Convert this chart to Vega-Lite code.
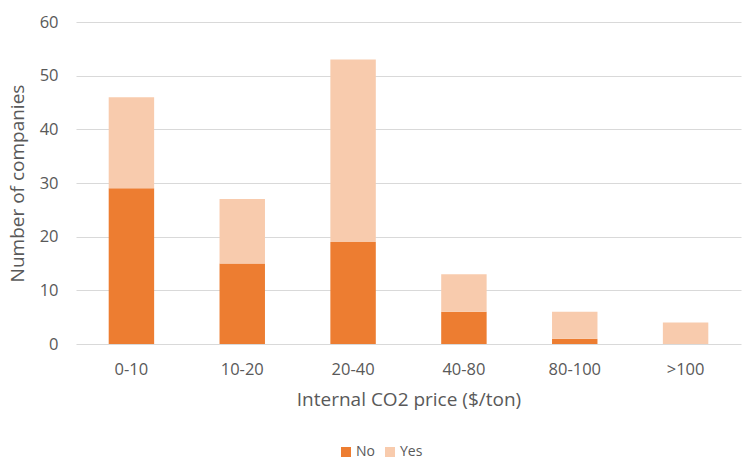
{
  "$schema": "https://vega.github.io/schema/vega-lite/v6.json",
  "width": 665,
  "height": 322,
  "autosize": {"type": "none"},
  "padding": {"left": 76, "top": 22, "right": 1, "bottom": 115},
  "background": "white",
  "data": {
    "values": [
      {"price": "0-10", "answer": "No", "companies": 29},
      {"price": "0-10", "answer": "Yes", "companies": 17},
      {"price": "10-20", "answer": "No", "companies": 15},
      {"price": "10-20", "answer": "Yes", "companies": 12},
      {"price": "20-40", "answer": "No", "companies": 19},
      {"price": "20-40", "answer": "Yes", "companies": 34},
      {"price": "40-80", "answer": "No", "companies": 6},
      {"price": "40-80", "answer": "Yes", "companies": 7},
      {"price": "80-100", "answer": "No", "companies": 1},
      {"price": "80-100", "answer": "Yes", "companies": 5},
      {"price": ">100", "answer": "No", "companies": 0},
      {"price": ">100", "answer": "Yes", "companies": 4}
    ]
  },
  "mark": {"type": "bar"},
  "encoding": {
    "x": {
      "field": "price",
      "type": "nominal",
      "sort": null,
      "scale": {"paddingInner": 0.59, "paddingOuter": 0.295},
      "axis": {
        "title": "Internal CO2 price ($/ton)",
        "labelAngle": 0,
        "ticks": false,
        "domain": false,
        "labelPadding": 17,
        "labelFontSize": 16.5,
        "labelColor": "#595959",
        "titleFontSize": 19,
        "titleFontWeight": "normal",
        "titleColor": "#595959",
        "titlePadding": 13
      }
    },
    "y": {
      "field": "companies",
      "type": "quantitative",
      "stack": "zero",
      "scale": {"domain": [0, 60]},
      "axis": {
        "title": "Number of companies",
        "values": [0, 10, 20, 30, 40, 50, 60],
        "ticks": false,
        "domain": false,
        "labelPadding": 18,
        "labelFontSize": 16.5,
        "labelColor": "#595959",
        "titleFontSize": 19,
        "titleFontWeight": "normal",
        "titleColor": "#595959",
        "titlePadding": 12,
        "gridColor": "#d9d9d9",
        "gridWidth": 1
      }
    },
    "color": {
      "field": "answer",
      "type": "nominal",
      "scale": {"domain": ["No", "Yes"], "range": ["#ed7d31", "#f8cbad"]},
      "legend": {
        "title": null,
        "orient": "none",
        "direction": "horizontal",
        "legendX": 263,
        "legendY": 423,
        "symbolType": "square",
        "symbolSize": 100,
        "symbolStrokeWidth": 0,
        "labelFontSize": 14,
        "labelColor": "#595959",
        "labelOffset": 3,
        "columnPadding": 8
      }
    },
    "order": {"field": "answer", "sort": "ascending"}
  },
  "config": {
    "font": "Open Sans",
    "view": {"stroke": null}
  }
}
